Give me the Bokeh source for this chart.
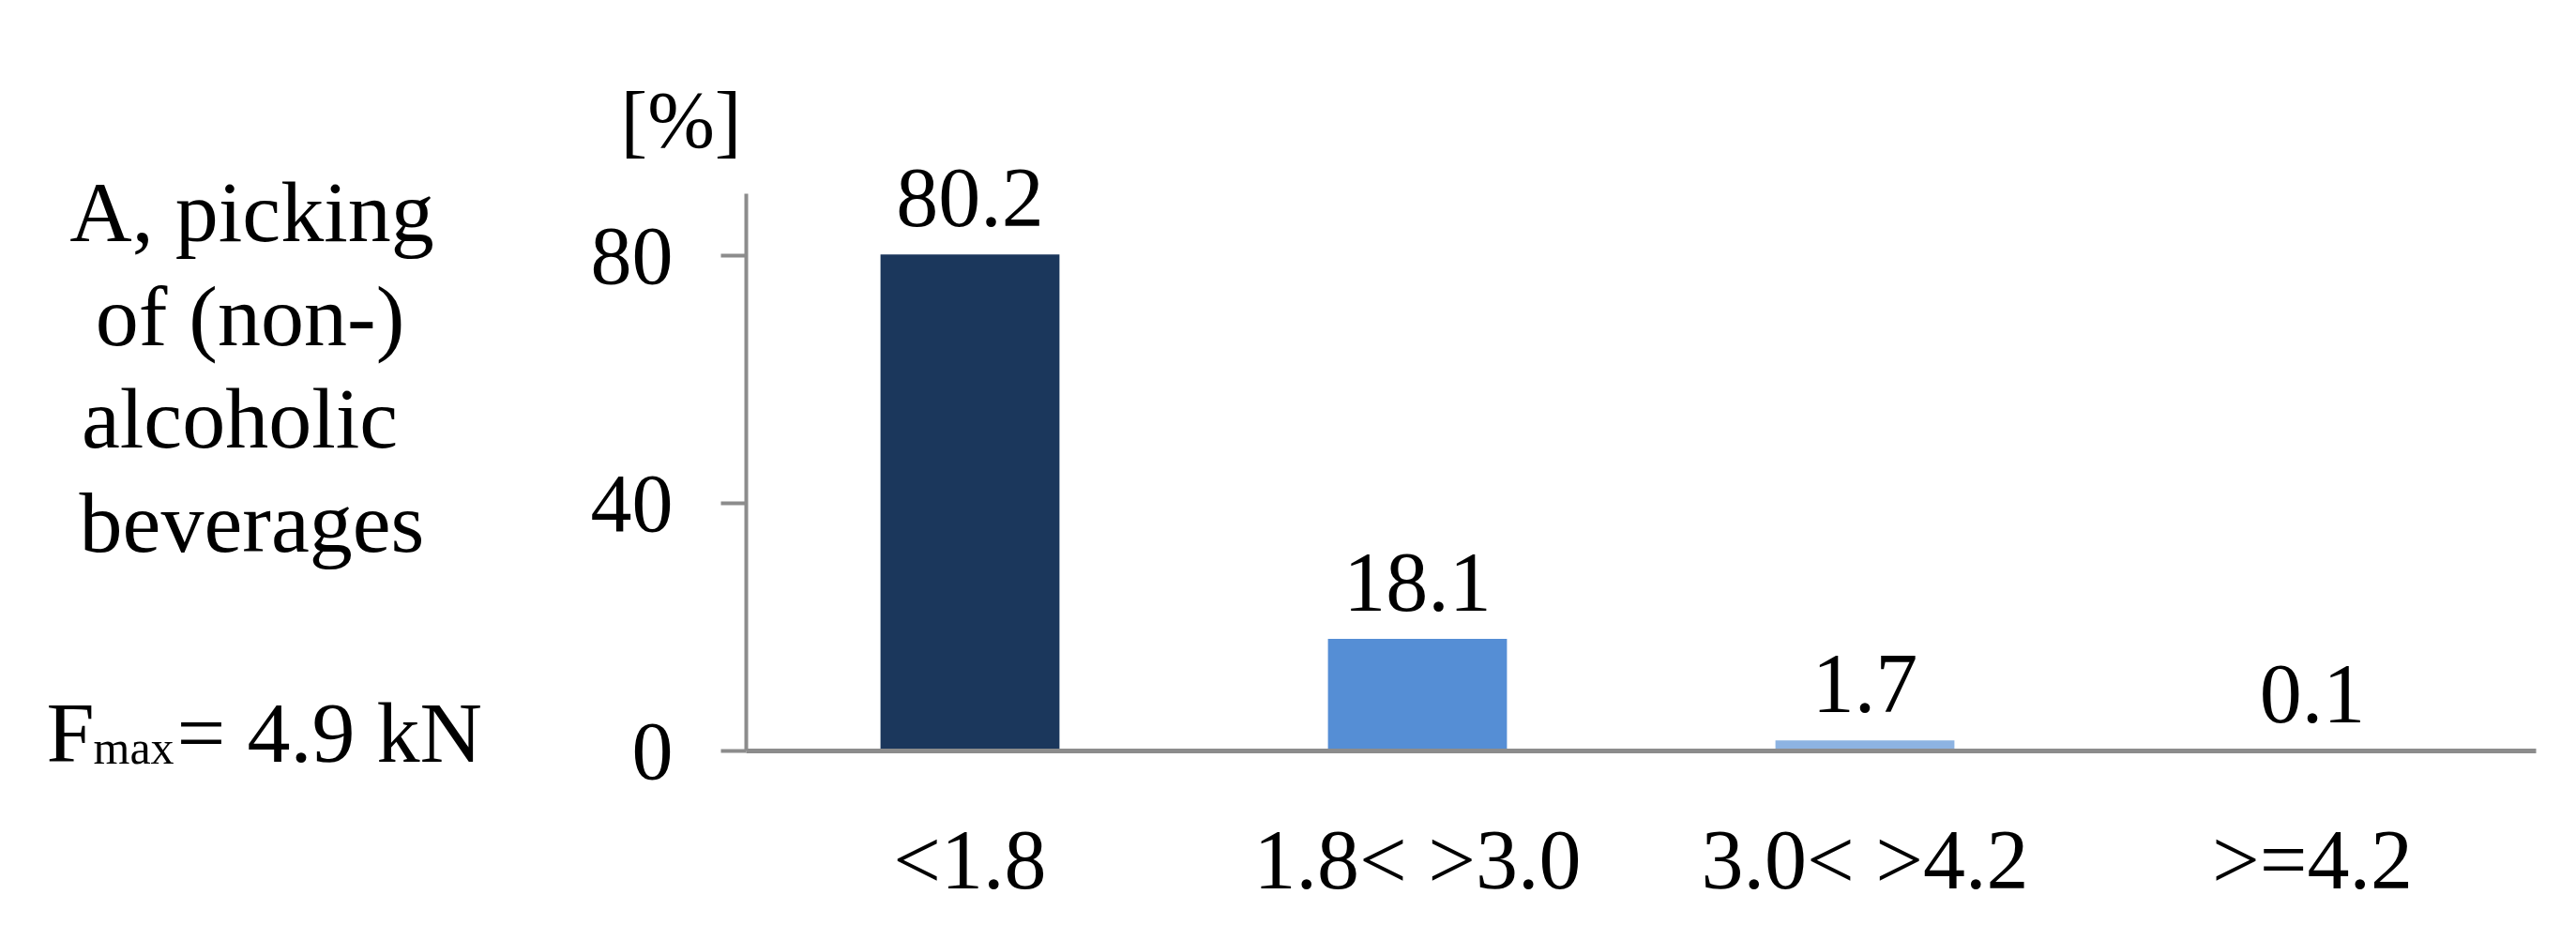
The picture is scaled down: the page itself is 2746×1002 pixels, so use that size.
import numpy as np
from bokeh.plotting import figure
from bokeh.models import Range1d, FixedTicker, ColumnDataSource
from bokeh.core.properties import value
from bokeh.embed import file_html
from bokeh.resources import INLINE

# ---- data ----
categories = ["<1.8", "1.8< >3.0", "3.0< >4.2", ">=4.2"]
values = [80.2, 18.1, 1.7, 0.1]
value_labels = ["80.2", "18.1", "1.7", "0.1"]
y_ticks = [0, 40, 80]
y_axis_max = 90
unit_label = "[%]"
side_lines = ["A, picking", "of (non-)", "alcoholic", "beverages"]
fmax_parts = ["F", "max", "= 4.9 kN"]

bar_colors = ["#1b375c", "#558ed5", "#8db3e2", "#c6d9f1"]

FONT = "Liberation Serif"
AXIS_COLOR = "#8c8c8c"

# ---- layout constants (page pixels) ----
W, H = 2744, 1000
AX_X = 795            # page x of the y axis
AX_END = 2703         # page x where x axis ends
ZERO_Y = 800          # page y of value 0
PXU_Y = 6.6           # pixels per percent
n = len(categories)
PXU_X = (AX_END - AX_X) / n

def dx(px):
    return (px - AX_X) / PXU_X - 0.5

def dy(py):
    return (ZERO_Y - py) / PXU_Y

xs = list(range(n))
src = ColumnDataSource(dict(x=xs, val=values, lab=value_labels, col=bar_colors,
                            laby=list(np.array(values) + 60 / PXU_Y)))

p = figure(
    width=W, height=H,
    x_range=Range1d(dx(0), dx(W)),
    y_range=Range1d(dy(H), dy(0)),
    min_border=0,
    output_backend="svg",
    toolbar_location=None,
    background_fill_color="white",
    border_fill_color="white",
)
p.outline_line_color = None
p.grid.visible = False

p.vbar(x="x", top="val", width=0.4, fill_color="col", line_color=None, source=src)

p.text(x="x", y="laby", text="lab", source=src,
       text_align="center", text_baseline="alphabetic",
       text_font=value(FONT), text_font_size="90px", text_color="black")

# y axis
ya = p.yaxis[0]
ya.fixed_location = dx(AX_X)
ya.ticker = FixedTicker(ticks=y_ticks)
ya.bounds = (0, y_axis_max)
ya.axis_line_color = AXIS_COLOR
ya.axis_line_width = 4
ya.major_tick_line_color = AXIS_COLOR
ya.major_tick_line_width = 4
ya.major_tick_out = 27
ya.major_tick_in = 0
ya.minor_tick_line_color = None
ya.major_label_standoff = 51
ya.major_label_text_font = FONT
ya.major_label_text_font_size = "88px"
ya.major_label_text_color = "black"

# x axis
xa = p.xaxis[0]
xa.fixed_location = 0
xa.ticker = FixedTicker(ticks=xs)
xa.major_label_overrides = {i: c for i, c in zip(xs, categories)}
xa.bounds = (dx(AX_X), dx(AX_END))
xa.axis_line_color = AXIS_COLOR
xa.axis_line_width = 5
xa.major_tick_line_color = None
xa.major_tick_out = 0
xa.major_tick_in = 0
xa.minor_tick_line_color = None
xa.major_label_standoff = 66
xa.major_label_text_font = FONT
xa.major_label_text_font_size = "90px"
xa.major_label_text_color = "black"

# unit label
p.text(x=[dx(790)], y=[dy(127)], text=[unit_label], text_align="right",
       text_baseline="alphabetic", text_font=value(FONT), text_font_size="86px",
       text_color="black")

# side description
side_centers = [268, 266, 255, 268]
side_baselines = [225, 336, 445, 556]
p.text(x=[dx(c) for c in side_centers], y=[dy(b) for b in side_baselines],
       text=side_lines, text_align="center", text_baseline="alphabetic",
       text_font=value(FONT), text_font_size="92px", text_color="black")

p.text(x=[dx(49), dx(188)], y=[dy(780), dy(780)], text=[fmax_parts[0], fmax_parts[2]],
       text_align="left", text_baseline="alphabetic",
       text_font=value(FONT), text_font_size="92px", text_color="black")
p.text(x=[dx(99)], y=[dy(796)], text=[fmax_parts[1]],
       text_align="left", text_baseline="alphabetic",
       text_font=value(FONT), text_font_size="50px", text_color="black")

open("out.html", "w").write(file_html(p, INLINE))
